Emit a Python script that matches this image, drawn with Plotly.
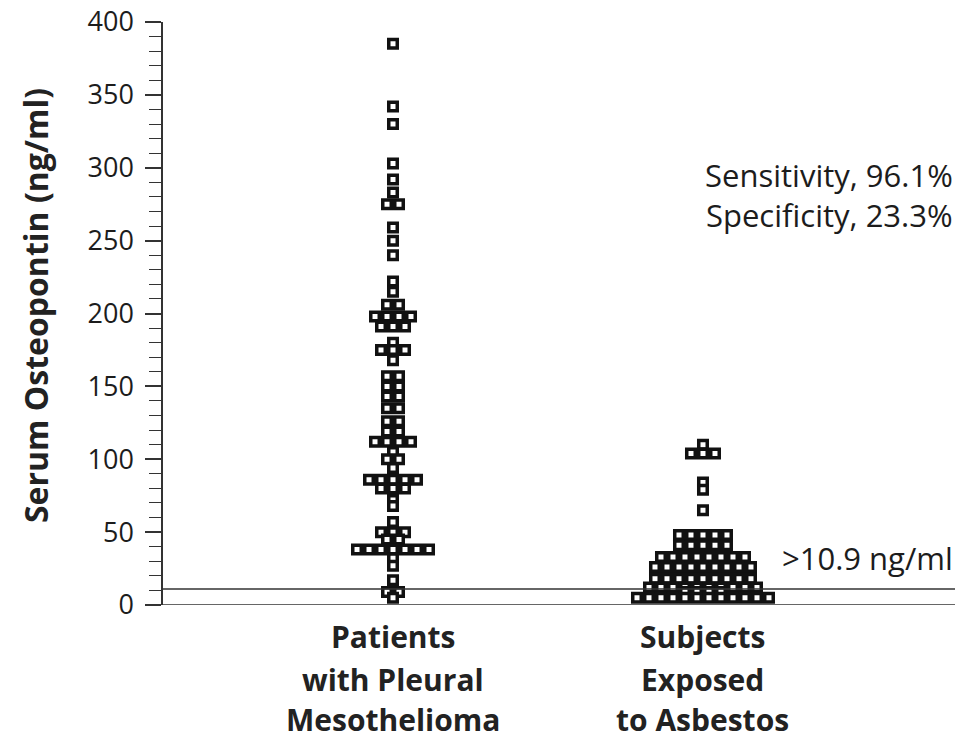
import plotly.graph_objects as go
from itertools import groupby

# ---- data ----
groups = ["Patients with Pleural Mesothelioma", "Subjects Exposed to Asbestos"]
group_labels = [["Patients", "with Pleural", "Mesothelioma"],
                ["Subjects", "Exposed", "to Asbestos"]]

meso_values = [385, 342, 330, 303, 292, 283, 275, 275, 259, 250, 240, 222, 215,
               206, 206, 198, 198, 198, 198, 191, 191, 191, 180, 175, 175, 175, 168,
               157, 157, 150, 150, 143, 143, 135, 135, 126, 126, 119, 119,
               112, 112, 112, 112, 105, 100, 100, 94, 86, 86, 86, 86, 86,
               80, 80, 80, 72, 68, 57, 50, 50, 50, 45, 45,
               38, 38, 38, 38, 38, 38, 38, 32, 27, 17, 9, 9, 5]

asb_values = [110, 104, 104, 104, 84, 79, 65,
              48, 48, 48, 48, 48,
              41, 41, 41, 41, 41,
              33, 33, 33, 33, 33, 33, 33, 33,
              26, 26, 26, 26, 26, 26, 26, 26, 26,
              18, 18, 18, 18, 18, 18, 18, 18, 18,
              12, 12, 12, 12, 12, 12, 12, 12, 12, 12,
              9, 9, 9, 9,
              5, 5, 5, 5, 5, 5, 5, 5, 5, 5, 5, 5]

threshold = 10.9
y_ticks = [0, 50, 100, 150, 200, 250, 300, 350, 400]
sens_text = "Sensitivity, 96.1%"
spec_text = "Specificity, 23.3%"
thr_text = ">10.9 ng/ml"
y_title = "Serum Osteopontin (ng/ml)"

# ---- layout helpers (page body margin removed via post_script) ----
W, H = 979, 740
ML, MR, MT, MB = 163, 24, 22, 135
plot_w = W - ML - MR
plot_h = H - MT - MB
x_range = [0.258, 2.813]
unit_per_px = (x_range[1] - x_range[0]) / plot_w
step = 12 * unit_per_px  # horizontal spacing between neighbouring markers


def px_to_paper_x(px):
    return (px - ML) / plot_w


def px_to_paper_y(py):
    return (H - MB - py) / plot_h


def dot_positions(values, center):
    xs, ys = [], []
    for v, grp in groupby(values):
        n = len(list(grp))
        for i in range(n):
            xs.append(center + (i - (n - 1) / 2) * step)
            ys.append(v)
    return xs, ys


fig = go.Figure()
for k, vals in enumerate([meso_values, asb_values]):
    xs, ys = dot_positions(vals, k + 1)
    fig.add_trace(go.Scatter(
        x=xs, y=ys, mode="markers", name=groups[k], showlegend=False,
        marker=dict(symbol="square", size=8.5, color="white",
                    line=dict(color="#111111", width=3.5)),
        cliponaxis=False,
    ))

font_family = "Open Sans, Noto Sans, sans-serif"
txt_color = "#1c1c1c"

fig.update_layout(
    width=W, height=H,
    margin=dict(l=ML, r=MR, t=MT, b=MB, autoexpand=False),
    plot_bgcolor="white", paper_bgcolor="white",
    font=dict(family=font_family, color=txt_color),
    xaxis=dict(range=x_range, showticklabels=False, ticks="", showgrid=False,
               zeroline=False, showline=False, automargin=False),
    yaxis=dict(range=[0, 400], tickvals=y_ticks, ticks="outside", ticklen=16,
               tickwidth=1.5, tickcolor="#333", showline=True, linecolor="#333",
               linewidth=1.5, showgrid=False, zeroline=False, automargin=False,
               ticklabelstandoff=6, ticklabeloverflow="allow",
               tickfont=dict(size=27, color=txt_color),
               minor=dict(dtick=10, ticks="outside", ticklen=12, tickwidth=1.2,
                          tickcolor="#333", showgrid=False)),
)

# baseline and threshold lines
for yv in [0, threshold]:
    fig.add_shape(type="line", xref="paper", yref="y", x0=0, x1=1, y0=yv, y1=yv,
                  line=dict(color="#333", width=1.5))

# y-axis title
fig.add_annotation(text=f"<b>{y_title}</b>", xref="paper", yref="paper",
                   x=px_to_paper_x(35), y=px_to_paper_y(306), textangle=-90,
                   showarrow=False, font=dict(size=32, color="#222"),
                   xanchor="center", yanchor="middle")

# category labels
line_y_px = [636, 679, 719]
for k, lines in enumerate(group_labels):
    for ln, ypx in zip(lines, line_y_px):
        fig.add_annotation(text=f"<b>{ln}</b>", xref="x", yref="paper",
                           x=k + 1, y=px_to_paper_y(ypx), showarrow=False,
                           font=dict(size=30, color="#222"),
                           xanchor="center", yanchor="middle")

# statistics text
for txt, ypx in [(sens_text, 175), (spec_text, 215), (thr_text, 558)]:
    fig.add_annotation(text=txt, xref="paper", yref="paper", x=1.0,
                       y=px_to_paper_y(ypx), showarrow=False,
                       xanchor="right", yanchor="middle", font=dict(size=31))

fig.write_html("out.html",
               config={"displayModeBar": False},
               post_script="document.body.style.margin='0';"
                           "document.body.style.overflow='hidden';")
